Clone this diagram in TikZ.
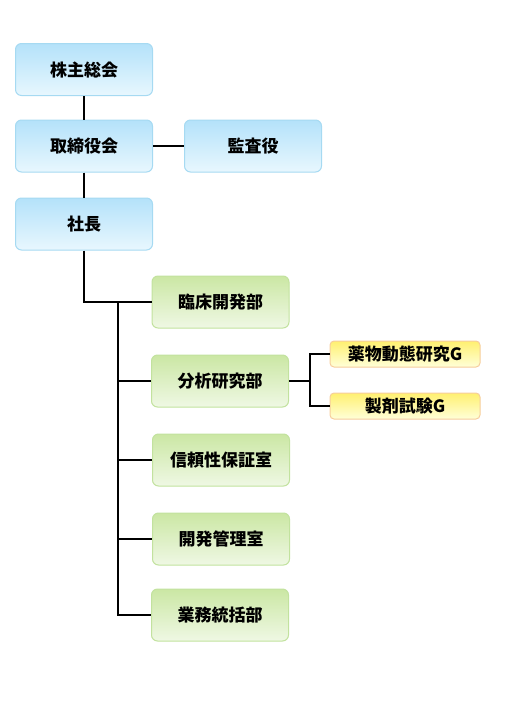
\documentclass[tikz,border=0pt]{standalone}
\usepackage{fontspec}
\setmainfont{Noto Sans CJK JP}
\definecolor{blueTop}{HTML}{B4E2FA}
\definecolor{blueBot}{HTML}{E8F7FE}
\definecolor{blueLine}{HTML}{A6DAF2}
\definecolor{greenTop}{HTML}{CBE7A4}
\definecolor{greenBot}{HTML}{EFF8E4}
\definecolor{greenLine}{HTML}{C2E29E}
\definecolor{yellowTop}{HTML}{FFF070}
\definecolor{yellowBot}{HTML}{FFFFD8}
\definecolor{yellowLine}{HTML}{F6CD9C}
\begin{document}
\begin{tikzpicture}[x=1pt,y=-1pt,
    box/.style={rounded corners=6pt, line width=1pt, inner sep=0pt,
        minimum width=137pt, minimum height=52pt, font=\fontsize{17}{17}\selectfont\bfseries},
    bluebox/.style={box, draw=blueLine, top color=blueTop, bottom color=blueBot},
    greenbox/.style={box, draw=greenLine, top color=greenTop, bottom color=greenBot},
    yellowbox/.style={box, draw=yellowLine, top color=yellowTop, bottom color=yellowBot,
        minimum width=150pt, minimum height=26pt, rounded corners=4pt},
    link/.style={line width=2pt}]
    \useasboundingbox (0,0) rectangle (508,723);

    % top of the chart
    \node[bluebox] (sokai) at (84,69.5) {株主総会};
    \node[bluebox] (torishimari) at (84,146) {取締役会};
    \node[bluebox] (kansa) at (253,146) {監査役};
    \node[bluebox] (shacho) at (84,224) {社長};

    % departments
    \node[greenbox] (rinsho) at (220.5,302) {臨床開発部};
    \node[greenbox] (bunseki) at (220,381) {分析研究部};
    \node[greenbox] (shinrai) at (221,460) {信頼性保証室};
    \node[greenbox] (kaihatsu) at (221,539) {開発管理室};
    \node[greenbox] (gyomu) at (220,615) {業務統括部};

    % groups
    \node[yellowbox] (yakubutsu) at (405,354) {薬物動態研究G};
    \node[yellowbox] (seizai) at (405,406) {製剤試験G};

    \draw[link] (sokai) -- (torishimari);
    \draw[link] (torishimari) -- (kansa);
    \draw[link] (torishimari) -- (shacho);
    \draw[link] (shacho) |- (rinsho);

    \coordinate (trunk) at (118,302);
    \draw[link] (trunk) |- (gyomu);
    \draw[link] (trunk |- bunseki) -- (bunseki);
    \draw[link] (trunk |- shinrai) -- (shinrai);
    \draw[link] (trunk |- kaihatsu) -- (kaihatsu);

    \coordinate (fork) at (310,381);
    \draw[link] (bunseki) -- (fork);
    \draw[link] (fork) |- (yakubutsu);
    \draw[link] (fork) |- (seizai);
\end{tikzpicture}
\end{document}
